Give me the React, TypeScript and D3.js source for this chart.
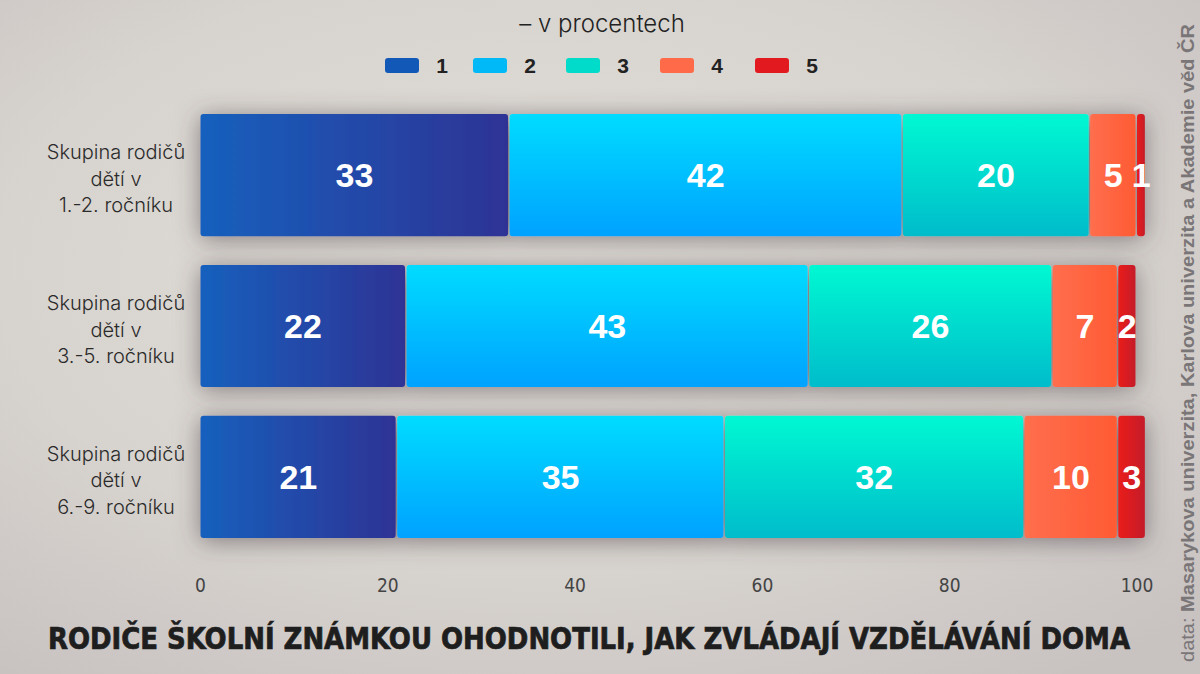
import { useEffect, useRef } from 'react';
import * as d3 from 'd3';

const categories = [
  ['Skupina rodičů', 'dětí v', '1.-2. ročníku'],
  ['Skupina rodičů', 'dětí v', '3.-5. ročníku'],
  ['Skupina rodičů', 'dětí v', '6.-9. ročníku'],
];
const grade1 = [33, 22, 21];
const grade2 = [42, 43, 35];
const grade3 = [20, 26, 32];
const grade4 = [5, 7, 10];
const grade5 = [1, 2, 3];
const seriesNames = ['1', '2', '3', '4', '5'];
const ticks = [0, 20, 40, 60, 80, 100];

const legendColors = ['#1258b6', '#00b9f6', '#00dcc9', '#ff6a48', '#e2191f'];
// gradient stops per grade: [from, to, direction]
const gradients: [string, string, 'h' | 'v'][] = [
  ['#1760bd', '#2e3395', 'h'],
  ['#00dcff', '#00a2ff', 'v'],
  ['#00f8d2', '#00bccb', 'v'],
  ['#ff6e4e', '#ff5b33', 'h'],
  ['#ea1a1a', '#c41f2a', 'h'],
];

export default function App() {
  const ref = useRef<SVGSVGElement>(null);

  useEffect(() => {
    const svg = d3.select(ref.current);
    svg.selectAll('*').remove();

    const width = 1200;
    const height = 674;
    svg.attr('width', width).attr('height', height);

    const defs = svg.append('defs');

    // background
    const bg = defs.append('radialGradient').attr('id', 'bg').attr('cx', '45%').attr('cy', '40%').attr('r', '75%');
    bg.append('stop').attr('offset', '0%').attr('stop-color', '#e2dfd9');
    bg.append('stop').attr('offset', '60%').attr('stop-color', '#d7d3ce');
    bg.append('stop').attr('offset', '100%').attr('stop-color', '#c8c2c1');

    gradients.forEach(([a, b, dir], i) => {
      const g = defs.append('linearGradient').attr('id', `g${i}`)
        .attr('x1', '0').attr('y1', '0')
        .attr('x2', dir === 'h' ? '1' : '0').attr('y2', dir === 'h' ? '0' : '1');
      g.append('stop').attr('offset', '0%').attr('stop-color', a);
      g.append('stop').attr('offset', '100%').attr('stop-color', b);
    });

    const shadow = defs.append('filter').attr('id', 'shadow')
      .attr('x', '-10%').attr('y', '-40%').attr('width', '120%').attr('height', '180%');
    shadow.append('feDropShadow').attr('dx', 0).attr('dy', 3).attr('stdDeviation', 12)
      .attr('flood-color', '#4e4347').attr('flood-opacity', 0.6);

    svg.append('rect').attr('width', width).attr('height', height).attr('fill', 'url(#bg)');

    const x = d3.scaleLinear().domain([0, 100]).range([200, 1136.5]);
    const y = d3.scaleBand<number>().domain(d3.range(categories.length))
      .range([114, 538]).paddingInner(0.19).paddingOuter(0);

    const rows = categories.map((_, i) => [grade1[i], grade2[i], grade3[i], grade4[i], grade5[i]]);

    // legend
    svg.append('text')
      .attr('x', 602).attr('y', 32)
      .attr('text-anchor', 'middle')
      .attr('font-family', 'Inter, "Noto Sans", sans-serif')
      .attr('font-weight', 300)
      .attr('font-size', 24)
      .attr('fill', '#222')
      .text('– v procentech');

    const legendX = [385, 473, 566, 660, 755];
    const legend = svg.append('g');
    seriesNames.forEach((n, i) => {
      legend.append('rect')
        .attr('x', legendX[i]).attr('y', 58)
        .attr('width', 34).attr('height', 15).attr('rx', 3)
        .attr('fill', legendColors[i]);
      legend.append('text')
        .attr('x', legendX[i] + 57).attr('y', 73)
        .attr('text-anchor', 'middle')
        .attr('font-family', '"Liberation Sans", Arial, sans-serif')
        .attr('font-weight', 700)
        .attr('font-size', 21)
        .attr('fill', '#222')
        .text(n);
    });

    // bars
    const bars = svg.append('g');
    rows.forEach((vals, r) => {
      let acc = 0;
      const row = bars.append('g').attr('filter', 'url(#shadow)');
      const labels = bars.append('g');
      vals.forEach((v, k) => {
        const x0 = x(acc);
        const x1 = x(acc + v);
        acc += v;
        row.append('rect')
          .attr('x', x0 + 0.5)
          .attr('y', y(r)!)
          .attr('width', Math.max(0, x1 - x0 - 1.5))
          .attr('height', y.bandwidth())
          .attr('rx', 3)
          .attr('fill', `url(#g${k})`);
        labels.append('text')
          .attr('x', (x0 + x1) / 2)
          .attr('y', y(r)! + y.bandwidth() / 2 + 12)
          .attr('text-anchor', 'middle')
          .attr('font-family', '"Liberation Sans", Arial, sans-serif')
          .attr('font-weight', 700)
          .attr('font-size', 34)
          .attr('fill', '#fff')
          .text(v);
      });

      const lab = svg.append('text')
        .attr('text-anchor', 'middle')
        .attr('font-family', 'Inter, "Noto Sans", sans-serif')
        .attr('font-weight', 300)
        .attr('font-size', 20)
        .attr('fill', '#2a2a2a');
      categories[r].forEach((line, li) => {
        lab.append('tspan')
          .attr('x', 116)
          .attr('y', y(r)! + y.bandwidth() / 2 - 16 + li * 26.5)
          .text(line);
      });
    });

    // x axis
    const axis = svg.append('g')
      .attr('transform', 'translate(0,592)')
      .call(d3.axisBottom(x).tickValues(ticks).tickSize(0).tickPadding(0));
    axis.select('.domain').remove();
    axis.selectAll('text')
      .attr('fill', '#444')
      .attr('font-family', '"DejaVu Sans Condensed", "Liberation Sans Narrow", sans-serif')
      .attr('font-weight', 200)
      .attr('font-size', 19)
      .attr('dy', 0);

    // title
    svg.append('text')
      .attr('x', 589).attr('y', 649)
      .attr('text-anchor', 'middle')
      .attr('font-family', '"Liberation Sans Narrow", "DejaVu Sans Condensed", sans-serif')
      .attr('font-weight', 700)
      .attr('font-size', 30)
      .attr('fill', '#1e1e1e')
      .attr('stroke', '#1e1e1e')
      .attr('stroke-width', 0.7)
      .attr('textLength', 1082)
      .attr('lengthAdjust', 'spacingAndGlyphs')
      .text('RODIČE ŠKOLNÍ ZNÁMKOU OHODNOTILI, JAK ZVLÁDAJÍ VZDĚLÁVÁNÍ DOMA');

    // source
    const src = svg.append('text')
      .attr('transform', 'translate(1194,662) rotate(-90)')
      .attr('font-family', '"Liberation Sans", Arial, sans-serif')
      .attr('font-size', 19)
      .attr('fill', '#7a7678')
      .attr('textLength', 638)
      .attr('lengthAdjust', 'spacingAndGlyphs');
    src.append('tspan').attr('font-weight', 300).text('data: ');
    src.append('tspan').attr('font-weight', 700).text('Masarykova univerzita, Karlova univerzita a Akademie věd ČR');
  }, []);

  return <svg ref={ref} style={{ position: 'absolute', left: 0, top: 0, display: 'block' }}></svg>;
}
